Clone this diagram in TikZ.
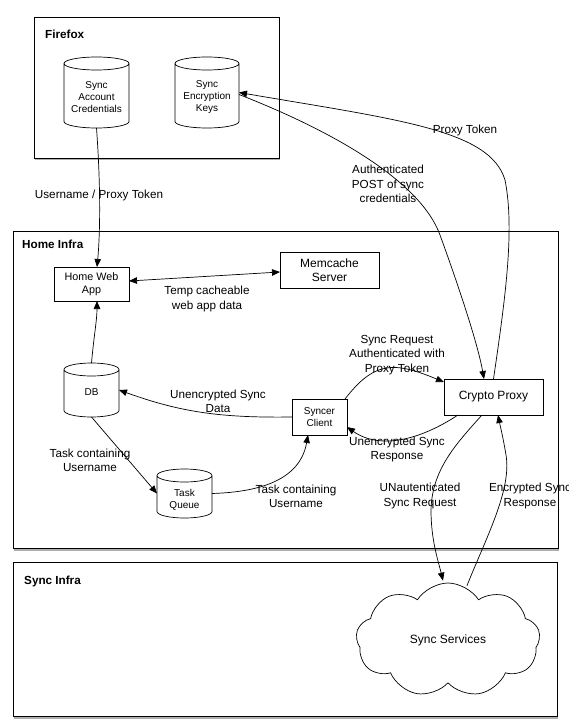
\documentclass[tikz,border=0pt]{standalone}
\usepackage{fontspec}
\setmainfont{Liberation Sans}
\usetikzlibrary{arrows.meta,shapes.symbols,shadows}

\tikzset{
 frame/.style={draw, line width=0.9pt, fill=white, inner sep=0, outer sep=0,
   drop shadow={shadow xshift=1pt, shadow yshift=-2.5pt, opacity=0.45, fill=black!70}},
 title/.style={anchor=west, font=\fontsize{11.7}{14}\selectfont\bfseries, inner sep=0},
 box/.style={draw, line width=0.7pt, align=center, inner sep=0, outer sep=0},
 cylshape/.style={inner sep=0, outer sep=0},
 cyltext/.style={align=center, inner sep=0, font=\fontsize{10}{12.3}\selectfont},
 lbl/.style={align=center, inner sep=0, font=\fontsize{11.7}{14.2}\selectfont},
 conn/.style={line width=0.7pt, -{Triangle[length=8pt,width=6.5pt]}},
 dconn/.style={line width=0.7pt, {Triangle[length=8pt,width=6.5pt]}-{Triangle[length=8pt,width=6.5pt]}},
}

\newcommand\cylnode[7]{%
 \node[cylshape, minimum width=#4pt, minimum height=#5pt] (#1) at (#2,#3) {};
 \draw[line width=0.7pt] ([yshift=-6.5pt]#1.north west) -- ([yshift=6.5pt]#1.south west)
   arc[start angle=180, end angle=360, x radius=#4pt/2, y radius=6.5pt]
   -- ([yshift=-6.5pt]#1.north east)
   arc[start angle=0, end angle=360, x radius=#4pt/2, y radius=6.5pt];
 \node[cyltext] (#1t) at (#2,#6) {#7};
}

\begin{document}
\begin{tikzpicture}[x=1pt, y=-1pt]
\useasboundingbox (0,0) rectangle (569,727);

% frames
\node[frame, minimum width=245pt, minimum height=141pt] (ff) at (156.5,87.5) {};
\node[frame, minimum width=545pt, minimum height=317pt] (hi) at (285.5,389.5) {};
\node[frame, minimum width=544pt, minimum height=154pt] (si) at (285,639) {};
\node[title] (fft) at (45,34) {Firefox};
\node[title] (hit) at (22,244) {Home Infra};
\node[title] (sit) at (24,581) {Sync Infra};

% cylinders
\cylnode{sac}{96.5}{92.5}{65}{71}{97}{Sync\\Account\\Credentials}
\cylnode{sek}{207}{92.5}{64}{71}{97}{Sync\\Encryption\\Keys}
\cylnode{db}{91.5}{390}{55}{54}{392}{DB}
\cylnode{tq}{184.5}{493.5}{55}{49}{499.5}{Task\\Queue}

% boxes
\node[box, minimum width=75pt, minimum height=34pt, font=\fontsize{10.8}{13.3}\selectfont] (hwa) at (91.5,284) {Home Web\\App};
\node[box, minimum width=99pt, minimum height=36pt, font=\fontsize{12}{14.3}\selectfont] (mem) at (329.5,270) {Memcache\\Server};
\node[box, minimum width=55pt, minimum height=36pt, font=\fontsize{10}{12.3}\selectfont] (sc) at (319.5,417) {Syncer\\Client};
\node[box, minimum width=99pt, minimum height=36pt, font=\fontsize{12}{14.3}\selectfont] (cp) at (493.5,397) {Crypto Proxy};

% cloud
\node[cloud, draw, line width=0.7pt, cloud puffs=9, cloud puff arc=115, aspect=1.6,
      minimum width=184pt, minimum height=114pt, inner sep=0,
      font=\fontsize{12}{14}\selectfont] (ss) at (448,640) {Sync Services};

% labels
\node[lbl] (l1) at (99,195) {Username / Proxy Token};
\node[lbl] (l2) at (207,299) {Temp cacheable\\web app data};
\node[lbl] (l3) at (465,130) {Proxy Token};
\node[lbl] (l4) at (388,184) {Authenticated\\POST of sync\\credentials};
\node[lbl] (l5) at (397,355) {Sync Request\\Authenticated with\\Proxy Token};
\node[lbl] (l6) at (218,401) {Unencrypted Sync\\Data};
\node[lbl] (l7) at (397,449.5) {Unencrypted Sync\\Response};
\node[lbl] (l8) at (90,460) {Task containing\\Username};
\node[lbl] (l9) at (296,496) {Task containing\\Username};
\node[lbl] (l10) at (420,496) {UNautenticated\\Sync Request};
\node[lbl] (l11) at (530,496) {Encrypted Sync\\Response};

% connectors
\draw[conn] (sac.south) .. controls (101,190) and (100,235) .. ([xshift=5.5pt]hwa.north);
\draw[conn] (cp.north) .. controls (505,300) and (515,230) .. (505,180)
   .. controls (490,130) and (400,120) .. (sek.east);
\draw[conn] ([yshift=-2pt]sek.east) .. controls (330,130) and (420,180) .. (440,235)
   .. controls (460,290) and (478,345) .. ([xshift=-9.5pt]cp.north);
\draw[dconn] ([yshift=3pt]hwa.east) -- ([yshift=-2pt]mem.west);
\draw[conn] (db.north) .. controls (94,335) and (97,320) .. ([xshift=5.5pt]hwa.south);
\draw[conn] (sc.west) .. controls (220,418) and (180,412) .. (db.east);
\draw[conn] (db.south) -- (tq.west);
\draw[conn] (tq.east) .. controls (260,492) and (300,480) .. ([xshift=-11.5pt]sc.south);
\draw[conn] ([xshift=-2pt]sc.north east) .. controls (375,360) and (395,362) .. ([yshift=-3pt]cp.north west);
\draw[conn] ([xshift=14pt]cp.south west) .. controls (420,440) and (380,450) .. ([yshift=-10pt]sc.east);
\draw[conn] ([xshift=-11.5pt]cp.south) .. controls (455,445) and (432,470) .. (431,510)
   .. controls (431,540) and (438,560) .. ([xshift=-5pt,yshift=2pt]ss.north);
\draw[conn] ([xshift=19pt,yshift=-3pt]ss.north) .. controls (485,540) and (512,490) .. (506,455)
   .. controls (503,437) and (500,425) .. ([xshift=4.5pt]cp.south);
\end{tikzpicture}
\end{document}
